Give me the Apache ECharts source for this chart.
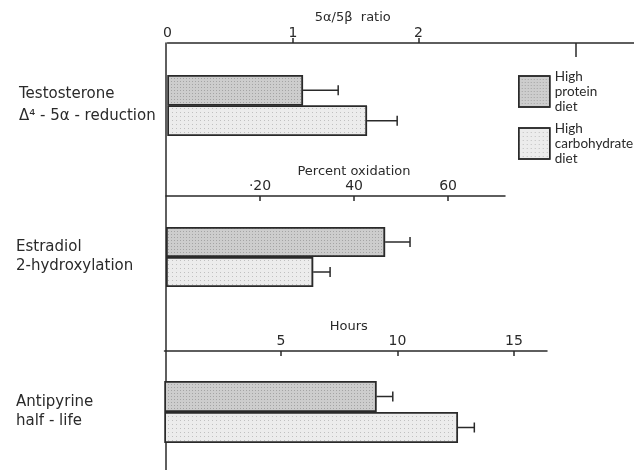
<!DOCTYPE html>
<html>
<head>
<meta charset="utf-8">
<script src="https://cdn.jsdelivr.net/npm/echarts@6/dist/echarts.min.js"></script>
<style>html,body{margin:0;padding:0;background:#fff}#c{width:634px;height:470px}</style>
</head>
<body>
<div id="c"></div>
<script>
// ---- data ----
const groupLabels = ['Testosterone\nΔ⁴ - 5α - reduction', 'Estradiol\n2-hydroxylation', 'Antipyrine\nhalf - life'];
const axisNames = ['5α/5β  ratio', 'Percent oxidation', 'Hours'];
const proteinValues = [1.08, 46.6, 9.1];
const proteinErrorTops = [1.36, 51.9, 9.8];
const carbValues = [1.59, 31.3, 12.6];
const carbErrorTops = [1.83, 34.9, 13.3];
const ratioTicks = [0, 1, 2];
const ratioExtraTicks = [3.25];
const oxidationTicks = [20, 40, 60];
const hoursTicks = [5, 10, 15];
const seriesNames = ['High\nprotein\ndiet', 'High\ncarbohydrate\ndiet'];

const FONT = 'DejaVu Sans';
const INK = '#2a2a2a';
const chart = echarts.init(document.getElementById('c'));

const gridDefs = [
  {left: 167.5, top: 75, height: 61, right: 0, max: 3.717, ticks: ratioTicks, offset: 32, nameGap: 19, namePad: [0, 96, 0, 0], tickInside: false, fmt: v => String(v), labelPad: [3, 0, 0, 3]},
  {left: 166, top: 227, height: 60, width: 339, max: 72.1, ticks: oxidationTicks, offset: 31, nameGap: 17, namePad: [0, 0, 0, 37], tickInside: true, fmt: v => v === 20 ? '·20' : String(v), labelPad: [7, 0, 0, 0]},
  {left: 164.5, top: 381, height: 62, width: 382.5, max: 16.42, ticks: hoursTicks, offset: 30, nameGap: 18, namePad: [0, 14, 0, 0], tickInside: true, fmt: v => String(v), labelPad: [5, 0, 0, 0]}
];

const grids = [], xAxes = [], yAxes = [], series = [];
gridDefs.forEach((g, i) => {
  const gr = {left: g.left, top: g.top, height: g.height};
  if (g.width !== undefined) gr.width = g.width; else gr.right = g.right;
  grids.push(gr);
  xAxes.push({
    gridIndex: i, type: 'value', position: 'top', min: 0, max: g.max, offset: g.offset,
    name: axisNames[i], nameLocation: 'middle', nameGap: g.nameGap,
    nameTextStyle: {fontFamily: FONT, fontSize: 13, color: INK, padding: g.namePad},
    axisLine: {show: true, lineStyle: {color: INK, width: 1.5}},
    axisTick: {show: true, inside: g.tickInside, length: 5, customValues: g.ticks.filter(v => v !== 0), lineStyle: {color: INK, width: 1.5}},
    axisLabel: {show: true, customValues: g.ticks, formatter: g.fmt, margin: 3, fontFamily: FONT, fontSize: 14, color: INK},
    splitLine: {show: false}
  });
  yAxes.push({
    gridIndex: i, type: 'category', data: [groupLabels[i]],
    axisLine: {show: false}, axisTick: {show: false},
    axisLabel: {show: true, align: 'left', margin: g.left - 16, fontFamily: FONT, fontSize: 15, lineHeight: i === 0 ? 22 : 19, color: INK, padding: g.labelPad}
  });
  const common = {type: 'bar', xAxisIndex: i, yAxisIndex: i, barWidth: '50%', barGap: '0%', barCategoryGap: '0%', silent: true};
  series.push(Object.assign({}, common, {
    name: seriesNames[0], data: [proteinValues[i]],
    itemStyle: {color: '#cdcdcd', borderColor: INK, borderWidth: 1.5,
      decal: {symbol: 'rect', symbolSize: 1, dashArrayX: [1, 2], dashArrayY: [1, 2], color: 'rgba(90,90,90,0.35)'}}
  }));
  series.push(Object.assign({}, common, {
    name: seriesNames[1], data: [carbValues[i]],
    itemStyle: {color: '#ececec', borderColor: INK, borderWidth: 1.5,
      decal: {symbol: 'rect', symbolSize: 1, dashArrayX: [1, 3], dashArrayY: [1, 3], color: 'rgba(90,90,90,0.3)'}}
  }));
  series.push({
    type: 'custom', xAxisIndex: i, yAxisIndex: i, silent: true, z: 5,
    encode: {x: [0, 1], y: 2},
    data: [[proteinValues[i], proteinErrorTops[i], 0, 0], [carbValues[i], carbErrorTops[i], 0, 1]],
    renderItem: function (params, api) {
      const c0 = api.coord([api.value(0), 0]);
      const c1 = api.coord([api.value(1), 0]);
      const band = api.size([0, 1])[1];
      const y = c0[1] + (api.value(3) === 0 ? -band / 4 : band / 4);
      const st = {stroke: INK, lineWidth: 1.5};
      return {type: 'group', children: [
        {type: 'line', shape: {x1: c0[0], y1: y, x2: c1[0], y2: y}, style: st},
        {type: 'line', shape: {x1: c1[0], y1: y - 5, x2: c1[0], y2: y + 5}, style: st}
      ]};
    }
  });
});

// extra downward tick on the ratio axis (grid 0)
xAxes.push({
  gridIndex: 0, type: 'value', position: 'top', min: 0, max: gridDefs[0].max, offset: gridDefs[0].offset,
  axisLine: {show: false}, axisLabel: {show: false}, splitLine: {show: false},
  axisTick: {show: true, inside: true, length: 14, customValues: ratioExtraTicks, lineStyle: {color: INK, width: 1.5}}
});

// long vertical base line spanning all panels
grids.push({left: 166, top: 43, bottom: 0, width: 10});
xAxes.push({gridIndex: 3, type: 'value', show: false});
yAxes.push({gridIndex: 3, type: 'value', axisLine: {show: true, lineStyle: {color: INK, width: 1.5}},
  axisTick: {show: false}, axisLabel: {show: false}, splitLine: {show: false}});

chart.setOption({
  backgroundColor: '#fff',
  animation: false,
  grid: grids, xAxis: xAxes, yAxis: yAxes, series: series,
  legend: {
    orient: 'vertical', left: 513, top: 64, itemWidth: 31, itemHeight: 31, itemGap: 7,
    icon: 'rect', data: seriesNames, selectedMode: false, itemStyle: {borderWidth: 1.5},
    textStyle: {fontFamily: 'Lato', fontSize: 13.5, lineHeight: 15, color: INK}
  }
});
</script>
</body>
</html>
